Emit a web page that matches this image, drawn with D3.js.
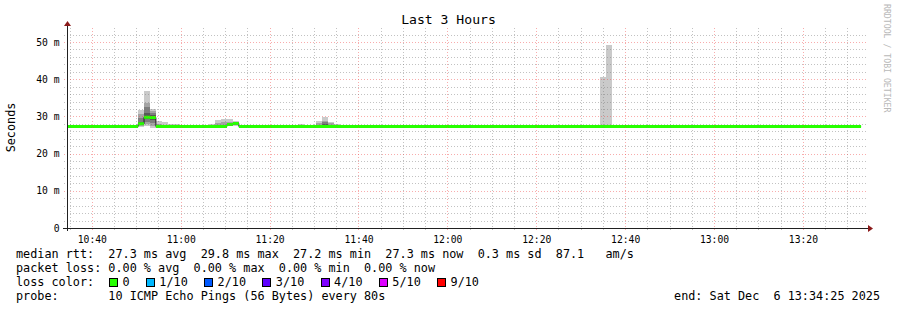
<!DOCTYPE html>
<html>
<head>
<meta charset="utf-8">
<script src="https://cdn.jsdelivr.net/npm/d3@7/dist/d3.min.js"></script>
<style>
body{margin:0;background:#fff;}
text{font-family:"DejaVu Sans Mono",monospace;white-space:pre;}
</style>
</head>
<body>
<div id="graph"></div>
<script>
var DAY = "2025-12-06 ";
var START_TIME = "10:34:25";
var END_TIME = "13:34:25";
var STEP_SECONDS = 80;

// median rtt in ms, each value holds until the next time
var medianTimes = ["10:34:25","10:50:25","10:51:45","10:53:05","10:54:25","11:10:25","11:11:45","11:13:05","13:33:05"];
var medianValues = [27.3, 28.0, 29.8, 29.7, 27.3, 27.8, 28.1, 27.3, 27.3];

// steps where the 10 pings spread out (sorted, ms)
var smokeTimes = ["10:50:25","10:51:45","10:53:05","10:54:25","10:55:45","10:57:05","10:58:25","10:59:45",
    "11:06:25","11:07:45","11:09:05","11:10:25","11:11:45",
    "11:26:25","11:29:05","11:30:25","11:31:45","11:33:05","11:34:25",
    "12:34:25","12:35:45"];
var smokePings = [
    [27.1, 27.3, 27.6, 27.8, 27.9, 28.1, 28.6, 29.6, 30.7, 31.7],
    [27.3, 27.9, 28.6, 29.3, 29.7, 29.9, 30.9, 32.5, 33.5, 36.8],
    [27.0, 27.4, 28.1, 28.9, 29.6, 29.8, 30.3, 30.9, 31.4, 32.0],
    [27.2, 27.3, 27.3, 27.4, 27.4, 27.4, 27.5, 27.6, 28.0, 28.7],
    [27.2, 27.2, 27.3, 27.3, 27.3, 27.4, 27.4, 27.5, 27.7, 28.6],
    [27.2, 27.2, 27.3, 27.3, 27.3, 27.3, 27.4, 27.4, 27.5, 28.0],
    [27.2, 27.2, 27.3, 27.3, 27.3, 27.3, 27.4, 27.4, 27.6, 28.0],
    [27.2, 27.2, 27.3, 27.3, 27.3, 27.3, 27.3, 27.4, 27.5, 27.8],
    [27.2, 27.2, 27.3, 27.3, 27.3, 27.3, 27.4, 27.4, 27.6, 27.9],
    [27.2, 27.3, 27.3, 27.3, 27.4, 27.4, 27.5, 27.7, 28.2, 29.0],
    [27.2, 27.3, 27.3, 27.4, 27.4, 27.5, 27.6, 27.8, 28.4, 29.3],
    [27.3, 27.5, 27.6, 27.7, 27.8, 27.9, 28.0, 28.2, 28.6, 29.3],
    [27.3, 27.6, 27.8, 27.9, 28.0, 28.2, 28.3, 28.4, 28.6, 28.8],
    [27.2, 27.2, 27.3, 27.3, 27.3, 27.3, 27.4, 27.4, 27.6, 27.9],
    [27.2, 27.3, 27.4, 27.5, 27.6, 27.7, 27.7, 27.7, 27.8, 27.8],
    [27.2, 27.2, 27.3, 27.3, 27.3, 27.4, 27.4, 27.6, 28.1, 28.8],
    [27.2, 27.3, 27.3, 27.4, 27.4, 27.6, 27.9, 28.4, 28.8, 29.9],
    [27.2, 27.2, 27.3, 27.3, 27.3, 27.4, 27.5, 27.7, 28.1, 28.6],
    [27.2, 27.2, 27.3, 27.3, 27.3, 27.3, 27.4, 27.4, 27.6, 27.9],
    [27.2, 27.2, 27.3, 27.3, 27.3, 27.3, 27.3, 27.3, 27.4, 40.7],
    [27.2, 27.2, 27.3, 27.3, 27.3, 27.3, 27.3, 27.4, 27.4, 49.2]
];

var yMax = 53.76;
var yMajorTicks = [0, 10, 20, 30, 40, 50];
var yTickLabels = ["0", "10 m", "20 m", "30 m", "40 m", "50 m"];

var titleText = "Last 3 Hours";
var unitText = "Seconds";
var watermarkText = "RRDTOOL / TOBI OETIKER";
var legendLines = [
    "median rtt:  27.3 ms avg  29.8 ms max  27.2 ms min  27.3 ms now  0.3 ms sd  87.1   am/s",
    "packet loss: 0.00 % avg  0.00 % max  0.00 % min  0.00 % now",
    "loss color:",
    "probe:       10 ICMP Echo Pings (56 Bytes) every 80s"
];
var lossLabels = ["0", "1/10", "2/10", "3/10", "4/10", "5/10", "9/10"];
var lossColors = ["#26ff00", "#00b8ff", "#0059ff", "#5e00ff", "#7e00ff", "#dd00ff", "#ff0000"];
var endText = "end: Sat Dec  6 13:34:25 2025";


SmokeGraph = function(w, h){
    this.w = w;
    this.h = h;
    this.left = 67;
    this.right = 867;
    this.top = 28;
    this.bottom = 228;

    this.init();
};

SmokeGraph.prototype.init = function(){
    var parse = d3.timeParse("%Y-%m-%d %H:%M:%S");
    this.parse = function(s){ return parse(DAY + s); };

    this.svg = d3.select("#graph")
        .append("svg")
        .attr("width", this.w)
        .attr("height", this.h);

    this.svg.append("rect")
        .attr("width", this.w)
        .attr("height", this.h)
        .style("fill", "white");

    this.x = d3.scaleTime()
        .domain([this.parse(START_TIME), this.parse(END_TIME)])
        .range([this.left, this.right]);

    this.y = d3.scaleLinear()
        .domain([0, yMax])
        .range([this.bottom, this.top]);

    this.drawSmoke();
    this.drawMedian();
    this.drawGrid();
    this.drawAxes();
    this.drawTexts();
};

SmokeGraph.prototype.drawSmoke = function(){
    var $this = this;
    var half = 5;

    var g = this.svg.append("g").attr("class", "smoke");

    smokeTimes.forEach(function(t, s){
        var t0 = $this.parse(t);
        var t1 = d3.timeSecond.offset(t0, STEP_SECONDS);
        var p = smokePings[s];
        // outer pair first, darker pairs towards the median on top
        for(var i = 0; i < half; i++){
            var shade = Math.floor(190 / half * (half - (i + 1))) + 50;
            g.append("rect")
                .attr("x", $this.x(t0))
                .attr("width", $this.x(t1) - $this.x(t0))
                .attr("y", $this.y(p[p.length - 1 - i]))
                .attr("height", $this.y(p[i]) - $this.y(p[p.length - 1 - i]))
                .style("fill", d3.rgb(shade, shade, shade))
                .attr("shape-rendering", "crispEdges");
        }
    });
};

SmokeGraph.prototype.drawMedian = function(){
    var $this = this;

    var data = medianTimes.map(function(t, i){
        return {t: $this.parse(t), v: medianValues[i]};
    });

    var line = d3.line()
        .curve(d3.curveStepAfter)
        .x(function(d){ return $this.x(d.t); })
        .y(function(d){ return $this.y(d.v); });

    this.svg.append("path")
        .datum(data)
        .attr("d", line)
        .style("fill", "none")
        .style("stroke", "#202020")
        .style("stroke-width", 1);

    // loss coloured band around the median, no vertical joins
    var sw = 0.4;
    var band = d3.area()
        .curve(d3.curveStepAfter)
        .x(function(d){ return $this.x(d.t); })
        .y0(function(d){ return $this.y(d.v - sw); })
        .y1(function(d){ return $this.y(d.v + sw); });

    this.svg.append("path")
        .datum(data)
        .attr("d", band)
        .style("fill", lossColors[0]);
};

SmokeGraph.prototype.drawGrid = function(){
    var $this = this;
    var g = this.svg.append("g").attr("class", "grid");

    var minorColor = "rgba(120,120,120,0.45)";
    var majorColor = "rgba(240,70,70,0.45)";

    var xTicks = this.x.ticks(d3.timeMinute.every(5));
    g.selectAll(".vgrid")
        .data(xTicks)
        .enter()
        .append("line")
        .attr("class", "vgrid")
        .attr("x1", function(d){ return Math.round($this.x(d)) + 0.5; })
        .attr("x2", function(d){ return Math.round($this.x(d)) + 0.5; })
        .attr("y1", this.top)
        .attr("y2", this.bottom + 3)
        .style("stroke", function(d){ return d.getMinutes() % 20 == 0 ? majorColor : minorColor; })
        .style("stroke-dasharray", "1,2");

    var yTicks = d3.range(0, yMax, 2).filter(function(v){ return v > 0; });
    g.selectAll(".hgrid")
        .data(yTicks)
        .enter()
        .append("line")
        .attr("class", "hgrid")
        .attr("x1", this.left - 3)
        .attr("x2", this.right)
        .attr("y1", function(d){ return Math.round($this.y(d)) + 0.5; })
        .attr("y2", function(d){ return Math.round($this.y(d)) + 0.5; })
        .style("stroke", function(d){ return d % 10 == 0 ? majorColor : minorColor; })
        .style("stroke-dasharray", "1,2");
};

SmokeGraph.prototype.drawAxes = function(){
    var $this = this;
    var axisColor = "#202020";
    var arrowColor = "#8b1a1a";

    var xAxis = d3.axisBottom(this.x)
        .ticks(d3.timeMinute.every(20))
        .tickFormat(d3.timeFormat("%H:%M"))
        .tickSize(0)
        .tickPadding(8);

    var gx = this.svg.append("g")
        .attr("transform", "translate(0," + (this.bottom + 0.5) + ")")
        .attr("color", "#000")
        .call(xAxis);
    gx.select(".domain").remove();
    gx.selectAll("text")
        .style("font-family", "'DejaVu Sans Mono', monospace")
        .style("font-size", "9.7px")
        .style("fill", "#000");

    var yAxis = d3.axisLeft(this.y)
        .tickValues(yMajorTicks)
        .tickFormat(function(d, i){ return yTickLabels[i]; })
        .tickSize(0)
        .tickPadding(7);

    var gy = this.svg.append("g")
        .attr("transform", "translate(" + (this.left - 0.5) + ",0)")
        .attr("color", "#000")
        .call(yAxis);
    gy.select(".domain").remove();
    gy.selectAll("text")
        .style("font-family", "'DejaVu Sans Mono', monospace")
        .style("font-size", "9.7px")
        .style("fill", "#000");

    this.svg.append("line")
        .attr("x1", this.left - 4)
        .attr("x2", this.right + 1)
        .attr("y1", this.bottom + 0.5)
        .attr("y2", this.bottom + 0.5)
        .style("stroke", axisColor);

    this.svg.append("line")
        .attr("x1", this.left + 0.5)
        .attr("x2", this.left + 0.5)
        .attr("y1", this.bottom + 3)
        .attr("y2", this.top - 3)
        .style("stroke", axisColor);

    this.svg.append("path")
        .attr("d", "M" + [this.right + 1, this.bottom - 3] + "L" + [this.right + 6, this.bottom + 0.5] + "L" + [this.right + 1, this.bottom + 4] + "Z")
        .style("fill", arrowColor);

    this.svg.append("path")
        .attr("d", "M" + [this.left - 3, this.top - 2] + "L" + [this.left + 0.5, this.top - 7] + "L" + [this.left + 4, this.top - 2] + "Z")
        .style("fill", arrowColor);
};

SmokeGraph.prototype.drawTexts = function(){
    var $this = this;
    var fs = "11.8px";

    this.svg.append("text")
        .attr("x", this.w / 2)
        .attr("y", 24)
        .attr("text-anchor", "middle")
        .style("font-size", "13.1px")
        .style("fill", "#000")
        .text(titleText);

    this.svg.append("text")
        .attr("transform", "translate(15,127.5) rotate(-90)")
        .attr("text-anchor", "middle")
        .style("font-size", fs)
        .style("fill", "#000")
        .text(unitText);

    this.svg.append("text")
        .attr("transform", "translate(884,4) rotate(90)")
        .style("font-size", "8.2px")
        .style("fill", "#b8b8b8")
        .text(watermarkText);

    var cw = 7;
    legendLines.forEach(function(l, i){
        var t = $this.svg.append("text")
            .attr("x", 16)
            .attr("y", 258 + i * 14)
            .style("font-size", fs)
            .style("fill", "#000")
            .text(l);
        if(i == 0) cw = t.node().getComputedTextLength() / l.length;
    });

    // loss colour boxes on the third legend line, laid out in character cells
    var lx = 16 + 13.1 * cw;
    lossLabels.forEach(function(lab, i){
        $this.svg.append("rect")
            .attr("x", Math.round(lx) + 0.5)
            .attr("y", 278.5)
            .attr("width", 8)
            .attr("height", 8)
            .style("fill", lossColors[i])
            .style("stroke", "#000")
            .style("stroke-width", 1);

        $this.svg.append("text")
            .attr("x", lx + 13.4)
            .attr("y", 286)
            .style("font-size", fs)
            .style("fill", "#000")
            .text(lab);

        lx = lx + (lab.length + 4.2) * cw;
    });

    this.svg.append("text")
        .attr("x", 880)
        .attr("y", 300)
        .attr("text-anchor", "end")
        .style("font-size", fs)
        .style("fill", "#000")
        .text(endText);
};

var graph = new SmokeGraph(897, 310);
</script>
</body>
</html>
